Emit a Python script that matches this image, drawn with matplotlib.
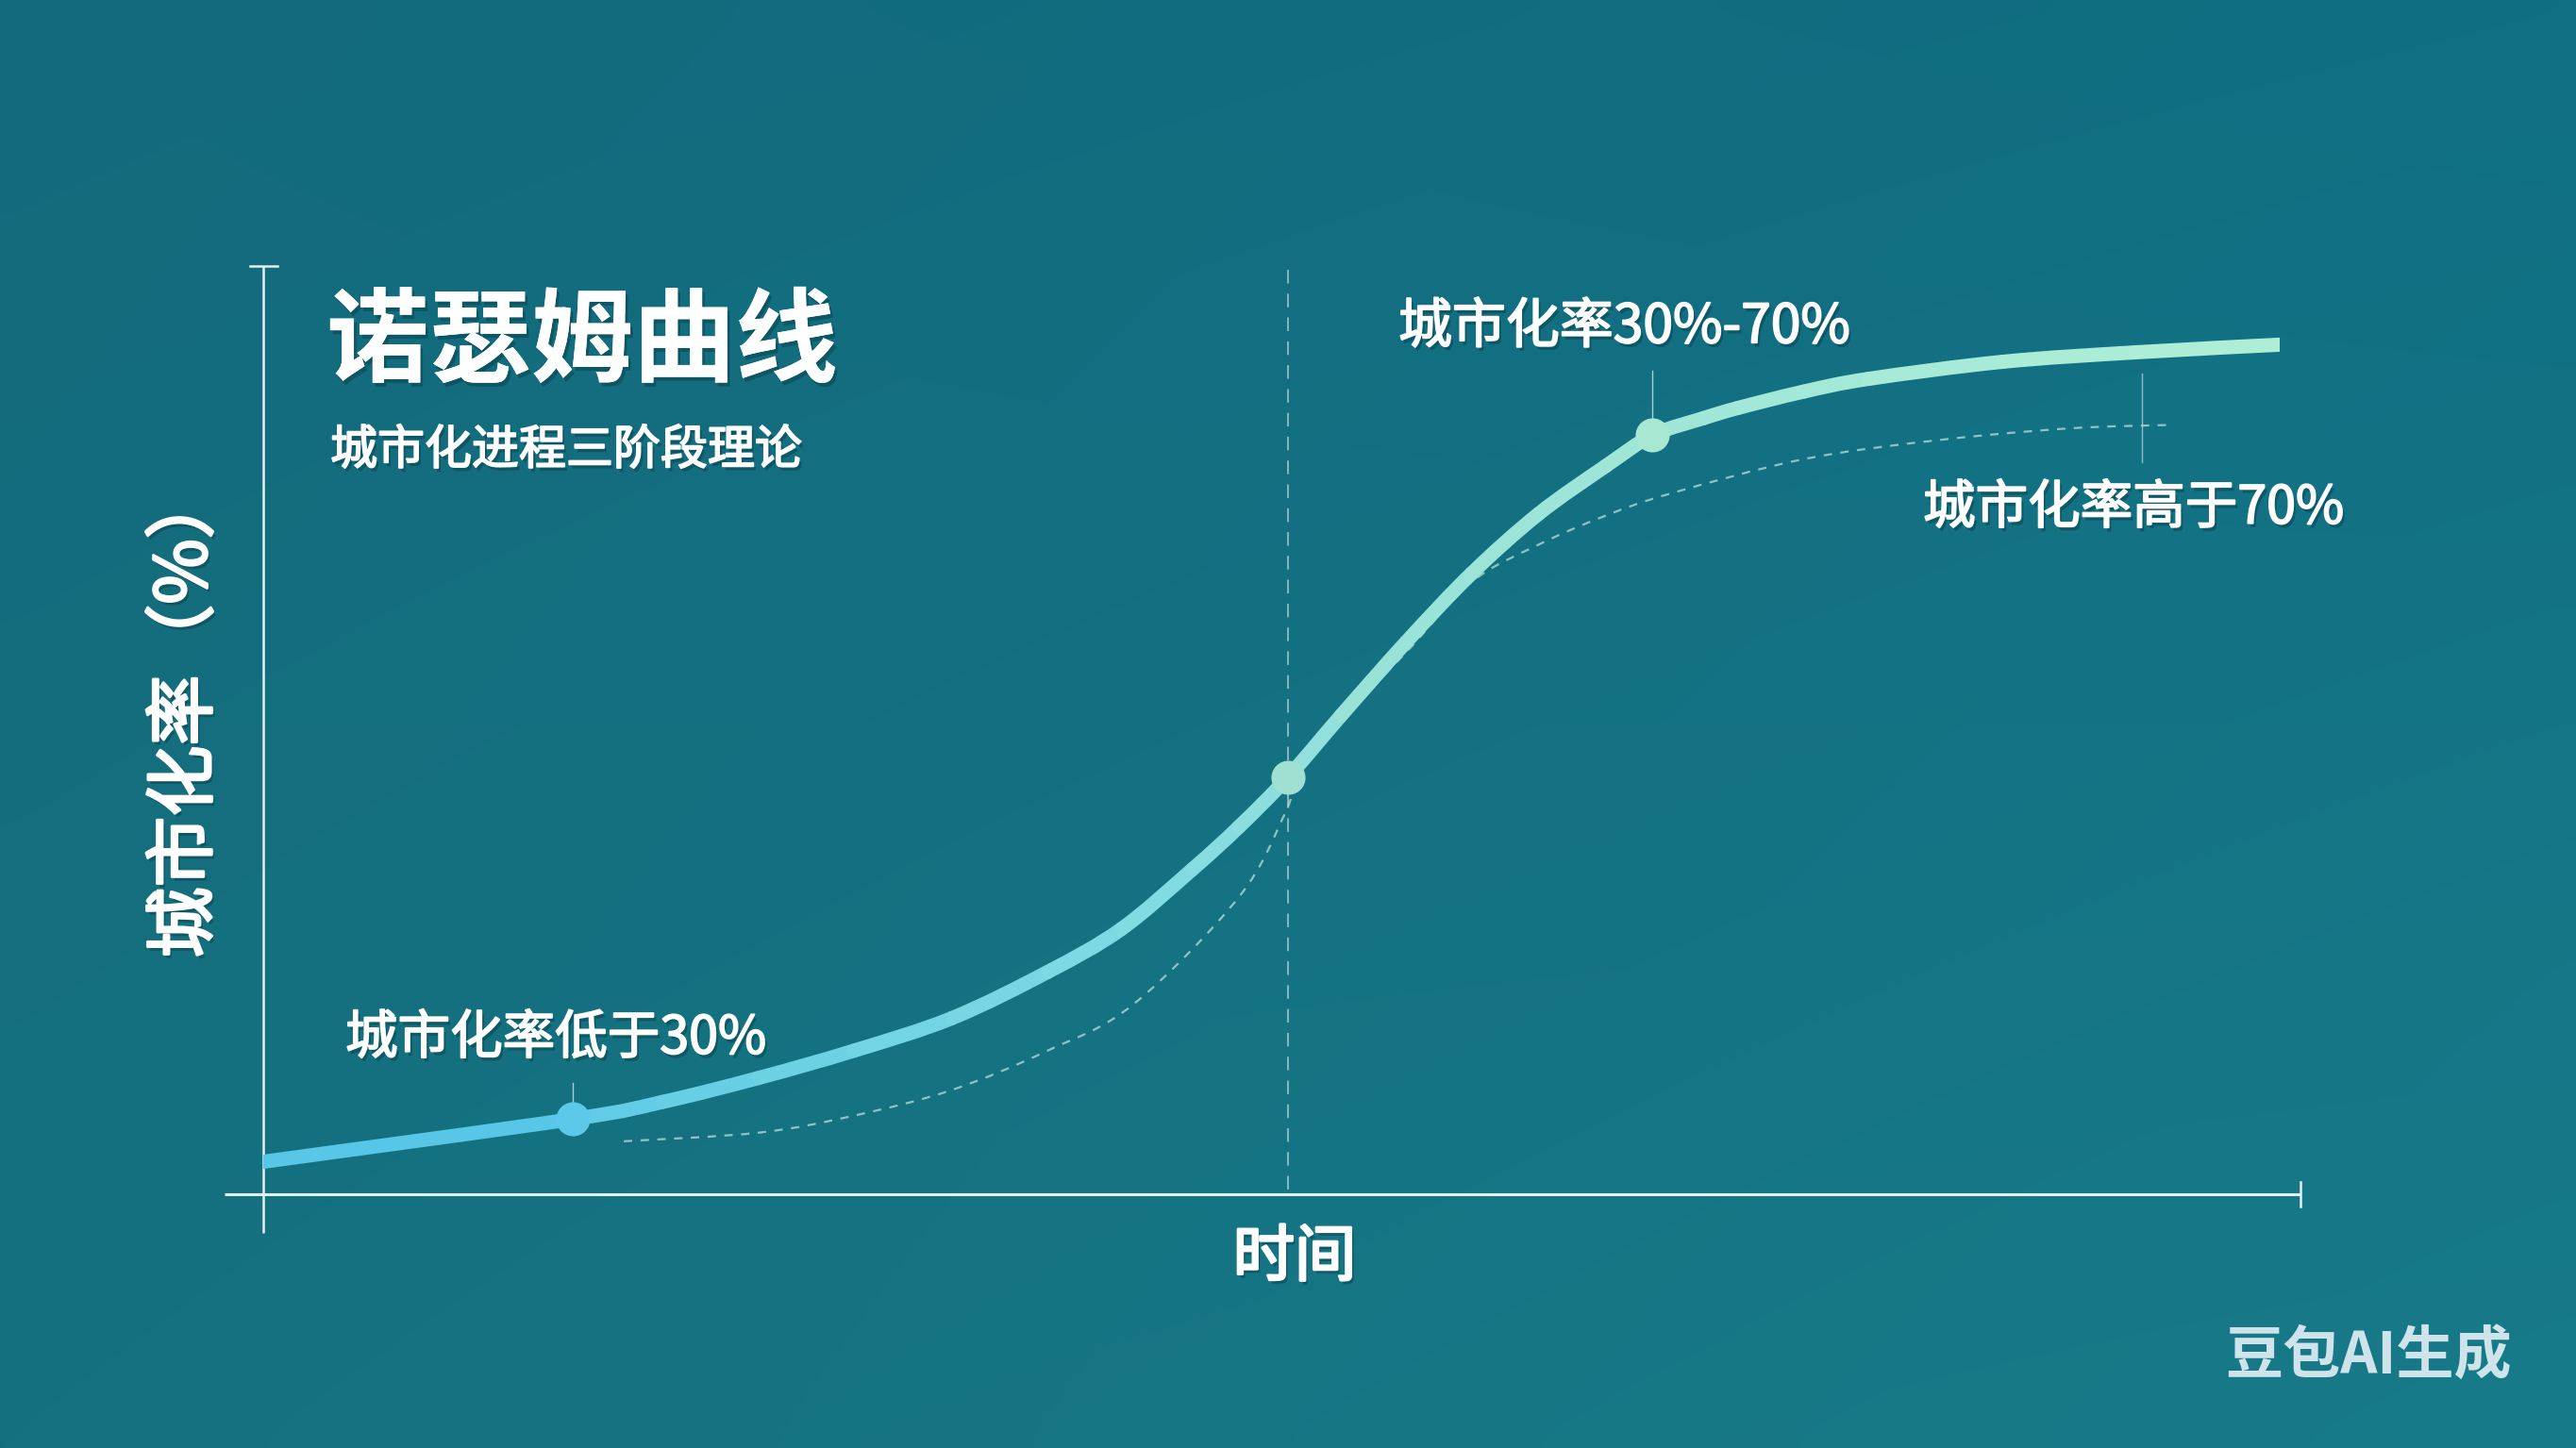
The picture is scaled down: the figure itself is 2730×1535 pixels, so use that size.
import numpy as np
import matplotlib
matplotlib.use("Agg")
import matplotlib.pyplot as plt
from matplotlib.colors import LinearSegmentedColormap, to_rgb
from matplotlib.patches import Rectangle, PathPatch
from matplotlib.path import Path
import matplotlib.patheffects as pe

plt.rcParams['font.family'] = ['Noto Sans CJK SC', 'DejaVu Sans']

# ---- data -------------------------------------------------------------
# Northam curve: urbanization rate (%) over time (schematic units)
time_main = [0, 15.2, 19.6, 24.3, 29.0, 33.8, 38.5, 42.1, 45.6, 47.9, 50.3,
             52.9, 56.1, 59.3, 62.6, 65.9, 68.2, 70.7, 72.4, 75.6, 78.8,
             85.4, 91.9, 99.0]
rate_main = [27.5, 30.0, 31.0, 32.4, 34.0, 35.9, 38.6, 41.1, 44.6, 47.1, 50.0,
             53.6, 57.9, 61.9, 65.4, 68.2, 70.0, 71.0, 71.6, 72.55, 73.3,
             74.3, 74.85, 75.3]

# lagging reference curve (dashed)
time_lag = [17.7, 24.3, 29.0, 33.8, 38.5, 42.7, 47.9, 50.2, 51.3, 56.1,
            59.3, 62.6, 65.9, 69.1, 75.6, 82.1, 88.6, 93.5]
rate_lag = [28.7, 29.2, 30.2, 31.7, 34.0, 36.7, 43.0, 48.0, 51.3, 57.3,
            61.4, 63.6, 65.3, 66.6, 68.6, 69.7, 70.4, 70.6]

# stage markers
stage_time = [15.2, 50.3, 68.2]
stage_rate = [30, 50, 70]
stage_colors = ['#5cc8ea', '#a0e0d2', '#a8e8d2']
stage_labels = ['城市化率低于30%', '城市化率30%-70%', '城市化率高于70%']

title = '诺瑟姆曲线'
subtitle = '城市化进程三阶段理论'
xlabel = '时间'
ylabel = '城市化率（%）'
watermark = '豆包AI生成'


def bezier_pieces(xs, ys):
    """Cubic Bezier pieces (Catmull-Rom tangents) passing through the points."""
    p = np.column_stack([xs, ys]).astype(float)
    ext = np.vstack([p[0], p, p[-1]])
    pieces = []
    for i in range(len(p) - 1):
        p0, p1, p2, p3 = ext[i], ext[i + 1], ext[i + 2], ext[i + 3]
        c1 = p1 + (p2 - p0) / 6.0
        c2 = p2 - (p3 - p1) / 6.0
        pieces.append([p1, c1, c2, p2])
    return pieces


# ---- figure -----------------------------------------------------------
W, H, DPI = 2730, 1535, 100
fig = plt.figure(figsize=(W / DPI, H / DPI), dpi=DPI)


def fpos(x, y):
    """pixel position -> figure fraction"""
    return x / W, 1 - y / H


# teal background with soft diagonal gradient
bg = fig.add_axes([0, 0, 1, 1])
bg.axis('off')
ny, nx = 60, 100
yy, xx = np.mgrid[0:1:ny * 1j, 0:1:nx * 1j]
tl = np.array(to_rgb('#136a7c'))
tr = np.array(to_rgb('#106f83'))
bl = np.array(to_rgb('#15717f'))
br = np.array(to_rgb('#187b89'))
img = (tl * ((1 - xx) * (1 - yy))[..., None] + tr * (xx * (1 - yy))[..., None]
       + bl * ((1 - xx) * yy)[..., None] + br * (xx * yy)[..., None])
bg.imshow(img, extent=[0, 1, 0, 1], aspect='auto', interpolation='bicubic',
          zorder=0)
bg.set_xlim(0, 1)
bg.set_ylim(0, 1)

# plotting area
ax = fig.add_axes([279 / W, (H - 1266) / H, (2438 - 279) / W, (1266 - 282) / H])
ax.set_xlim(0, 100)
ax.set_ylim(25.6, 79.9)
ax.axis('off')

axis_col = '#e4f1f3'
ylo, yhi = 25.6, 79.9
# x axis with end cap
ax.plot([-1.9, 100], [ylo, ylo], color=axis_col, lw=2.2, clip_on=False,
        solid_capstyle='butt', zorder=3)
ax.plot([100, 100], [ylo - 0.7, ylo + 0.7], color=axis_col, lw=1.8,
        clip_on=False, zorder=3)
# y axis with top cap
ax.plot([0, 0], [ylo - 2.25, yhi], color=axis_col, lw=1.8, clip_on=False,
        solid_capstyle='butt', zorder=3)
ax.plot([-0.65, 0.7], [yhi, yhi], color=axis_col, lw=1.8, clip_on=False,
        zorder=3)

# vertical dashed guide through the inflection point
ax.plot([stage_time[1], stage_time[1]], [ylo + 0.3, yhi], color='#a9d3d8',
        lw=1.3, ls=(0, (8, 6)), alpha=0.8, clip_on=False, zorder=2)

# lagging dashed curve (smooth path through the points)
lag_verts, lag_codes = [], []
for k, seg in enumerate(bezier_pieces(time_lag, rate_lag)):
    if k == 0:
        lag_verts.append(seg[0])
        lag_codes.append(Path.MOVETO)
    lag_verts.extend(seg[1:])
    lag_codes.extend([Path.CURVE4] * 3)
ax.add_patch(PathPatch(Path(lag_verts, lag_codes), facecolor='none',
                       edgecolor='#b9dfe2', lw=1.6, ls=(0, (4, 4)),
                       alpha=0.75, zorder=2))

# small guide at the upper end of the lagging curve
ax.plot([92.2, 92.2], [68.4, 73.6], color='#a9d3d8', lw=1.0, alpha=0.8,
        zorder=2)

# thin leader ticks above the stage markers
ax.plot([stage_time[0]] * 2, [stage_rate[0], 32.1], color='#cfe6ea', lw=1.0,
        alpha=0.8, zorder=2)
ax.plot([stage_time[2]] * 2, [stage_rate[2], 73.8], color='#cfe6ea', lw=1.0,
        alpha=0.8, zorder=2)

# main curve: smooth pieces coloured along a blue -> mint gradient
cmap = LinearSegmentedColormap.from_list(
    'northam', [(0.0, '#4ec2e8'), (0.45, '#82dbe2'), (0.55, '#98e2d8'),
                (1.0, '#b0efd6')])
clip = Rectangle((time_main[0], 0), time_main[-1] - time_main[0], 100,
                 transform=ax.transData)
for seg in bezier_pieces(time_main, rate_main):
    frac = (seg[0][0] + seg[3][0]) / 2 / time_main[-1]
    patch = PathPatch(Path(seg, [Path.MOVETO] + [Path.CURVE4] * 3),
                      facecolor='none', edgecolor=cmap(frac), lw=10.8,
                      capstyle='round', joinstyle='round', zorder=4)
    ax.add_patch(patch)
    patch.set_clip_path(clip)

# stage markers
for t, r, c in zip(stage_time, stage_rate, stage_colors):
    ax.plot([t], [r], marker='o', ms=26, color=c, mew=0, zorder=5)

# ---- text -------------------------------------------------------------
shadow = pe.withSimplePatchShadow(offset=(2, -3), shadow_rgbFace='#083a44',
                                  alpha=0.45)
plain = [shadow, pe.Normal()]
medium = [shadow, pe.Stroke(linewidth=1.3, foreground='white'), pe.Normal()]

fig.text(*fpos(346, 365), title, fontsize=78, fontweight='heavy',
         color='white', ha='left', va='center', path_effects=plain)
fig.text(*fpos(350, 478), subtitle, fontsize=36, color='white',
         ha='left', va='center', path_effects=medium)

label_pos = [(366, 1101), (1482, 347), (2038, 539)]
label_size = [40, 41, 40]
for (x, y), s, fs in zip(label_pos, stage_labels, label_size):
    fig.text(*fpos(x, y), s, fontsize=fs, color='white',
             ha='left', va='center', path_effects=medium)

fig.text(*fpos(1372, 1334), xlabel, fontsize=47, color='white',
         ha='center', va='center',
         path_effects=[shadow, pe.Stroke(linewidth=2.0, foreground='white'),
                       pe.Normal()])
fig.text(*fpos(197, 756), ylabel, fontsize=54, color='white',
         ha='center', va='center', rotation=90,
         path_effects=[shadow, pe.Stroke(linewidth=2.0, foreground='white'),
                       pe.Normal()])

fig.text(*fpos(2510, 1438), watermark, fontsize=44, fontweight='heavy',
         color='#cfe3ea', ha='center', va='center')

fig.savefig('out.png', dpi=DPI)
